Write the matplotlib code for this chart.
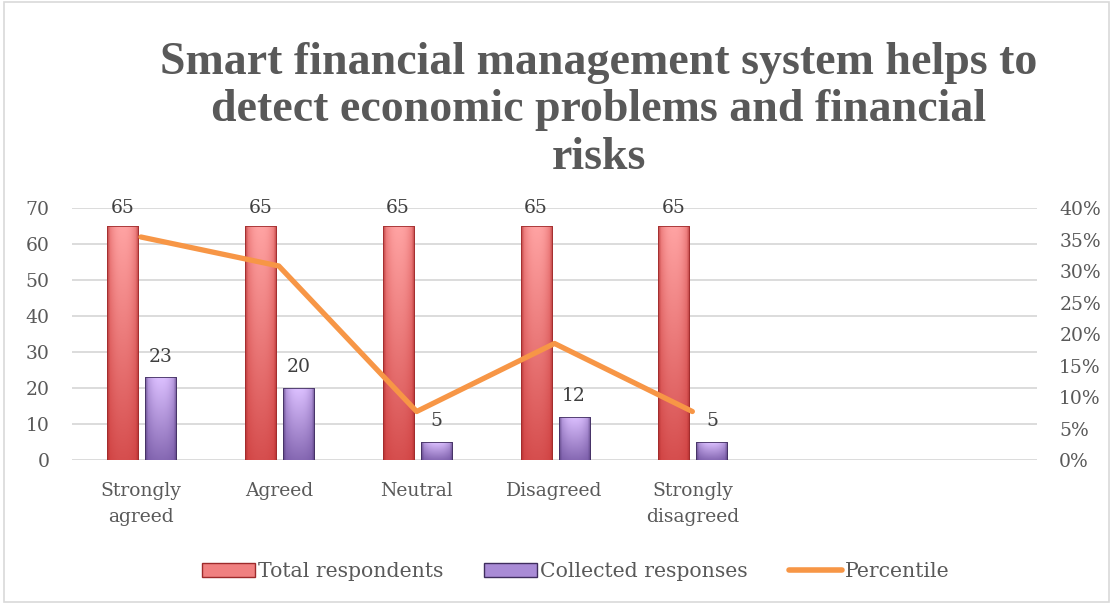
import numpy as np
import matplotlib
matplotlib.use('Agg')
import matplotlib.pyplot as plt
from matplotlib.patches import Patch, Rectangle
from matplotlib.lines import Line2D
from matplotlib.ticker import PercentFormatter

# ---------------------------
# Data
# ---------------------------
categories = ["Strongly\nagreed", "Agreed", "Neutral", "Disagreed", "Strongly\ndisagreed", "", ""]
total_respondents = [65, 65, 65, 65, 65]
collected_responses = [23, 20, 5, 12, 5]
percentile = [35.4, 30.8, 7.7, 18.5, 7.7]

title = "Smart financial management system helps to\ndetect economic problems and financial\nrisks"
series_names = ["Total respondents", "Collected responses", "Percentile"]

TEXT = "#595959"
GRID = "#D9D9D9"
ORANGE = "#F79646"
plt.rcParams['font.family'] = ['DejaVu Serif']
FS = 13.5

fig = plt.figure(figsize=(11.13, 6.04), dpi=100)
fig.patches.append(Rectangle((0.004, 0.004), 0.992, 0.992, transform=fig.transFigure,
                             fill=False, edgecolor="#D9D9D9", linewidth=1.2))

ax = fig.add_axes([0.0647, 0.2384, 0.867, 0.4172])
ax2 = ax.twinx()


def shade_bar(bar, light, dark, edge):
    """Fake the Office bevel look with a gradient clipped to the bar."""
    x0, y0 = bar.get_x(), bar.get_y()
    w, h = bar.get_width(), bar.get_height()
    nx, ny = 40, 120
    xs = np.linspace(0, 1, nx)
    ys = np.linspace(1, 0, ny)
    hx = 1 - np.abs(2 * xs - 1) ** 2.5
    t = np.outer(0.25 + 0.75 * ys, 0.45 + 0.55 * hx)
    light, dark, edge = (np.array(matplotlib.colors.to_rgb(c)) for c in (light, dark, edge))
    img = dark + (light - dark) * t[..., None]
    # darker rim on the sides
    rim = (np.abs(2 * xs - 1) > 0.85)[None, :, None]
    img = np.where(rim, img * 0.75 + edge * 0.25, img)
    im = ax.imshow(img, extent=[x0, x0 + w, y0, y0 + h], aspect='auto', zorder=2,
                   interpolation='bilinear')
    im.set_clip_path(bar)
    bar.set_facecolor('none')


x = np.arange(len(total_respondents))
bw = 0.225
red = ax.bar(x - 0.134, total_respondents, bw, color="none", edgecolor="#9E2A2B",
             linewidth=0.6, zorder=3)
purple = ax.bar(x + 0.142, collected_responses, bw, color="none", edgecolor="#3F2D5E",
                linewidth=0.6, zorder=3)
for b in red:
    shade_bar(b, "#FFA3A3", "#C83232", "#8E2020")
for b in purple:
    shade_bar(b, "#DCC0FF", "#6A4C9A", "#3A2858")

for b, v in zip(red, total_respondents):
    ax.text(b.get_x() + b.get_width() / 2, v + 2.6, str(v), ha='center', va='bottom',
            fontsize=FS, color="#404040")
for b, v in zip(purple, collected_responses):
    ax.text(b.get_x() + b.get_width() / 2, v + 3.2, str(v), ha='center', va='bottom',
            fontsize=FS, color="#404040")

ax2.plot(x, percentile, color=ORANGE, linewidth=3.8, solid_capstyle='round', zorder=5)

ax.set_xlim(-0.5, len(categories) - 0.5)
ax.set_ylim(0, 70)
ax.set_yticks(range(0, 71, 10))
ax2.set_ylim(0, 40)
ax2.set_yticks(range(0, 41, 5))
ax2.yaxis.set_major_formatter(PercentFormatter(decimals=0))

ax.set_xticks(range(len(categories)))
ax.set_xticklabels(categories, fontsize=FS, color=TEXT, linespacing=1.55)
ax.tick_params(axis='x', length=0, pad=16)
ax.tick_params(axis='y', length=0, pad=16, labelsize=FS, labelcolor=TEXT)
ax2.tick_params(axis='y', length=0, pad=16, labelsize=FS, labelcolor=TEXT)

ax.grid(axis='y', color=GRID, linewidth=1.3, zorder=0)
ax.set_axisbelow(True)
for a in (ax, ax2):
    for s in a.spines.values():
        s.set_visible(False)
ax2.set_zorder(ax.get_zorder() + 1)
ax2.patch.set_visible(False)

fig.text(0.538, 0.93, title, ha='center', va='top', fontsize=33, fontweight='bold',
         color=TEXT, family=['Liberation Serif'], linespacing=1.16)

handles = [Patch(facecolor="#F08080", edgecolor="#9E2A2B"),
           Patch(facecolor="#A98BD6", edgecolor="#3F2D5E"),
           Line2D([0], [0], color=ORANGE, linewidth=4, solid_capstyle='round')]
fig.legend(handles, series_names, loc='center', bbox_to_anchor=(0.517, 0.053), ncol=3,
           frameon=False, fontsize=14.7, labelcolor=TEXT, handlelength=2.6, handleheight=0.7,
           handletextpad=0.15, columnspacing=2.0)

fig.savefig("out.png", dpi=100)
